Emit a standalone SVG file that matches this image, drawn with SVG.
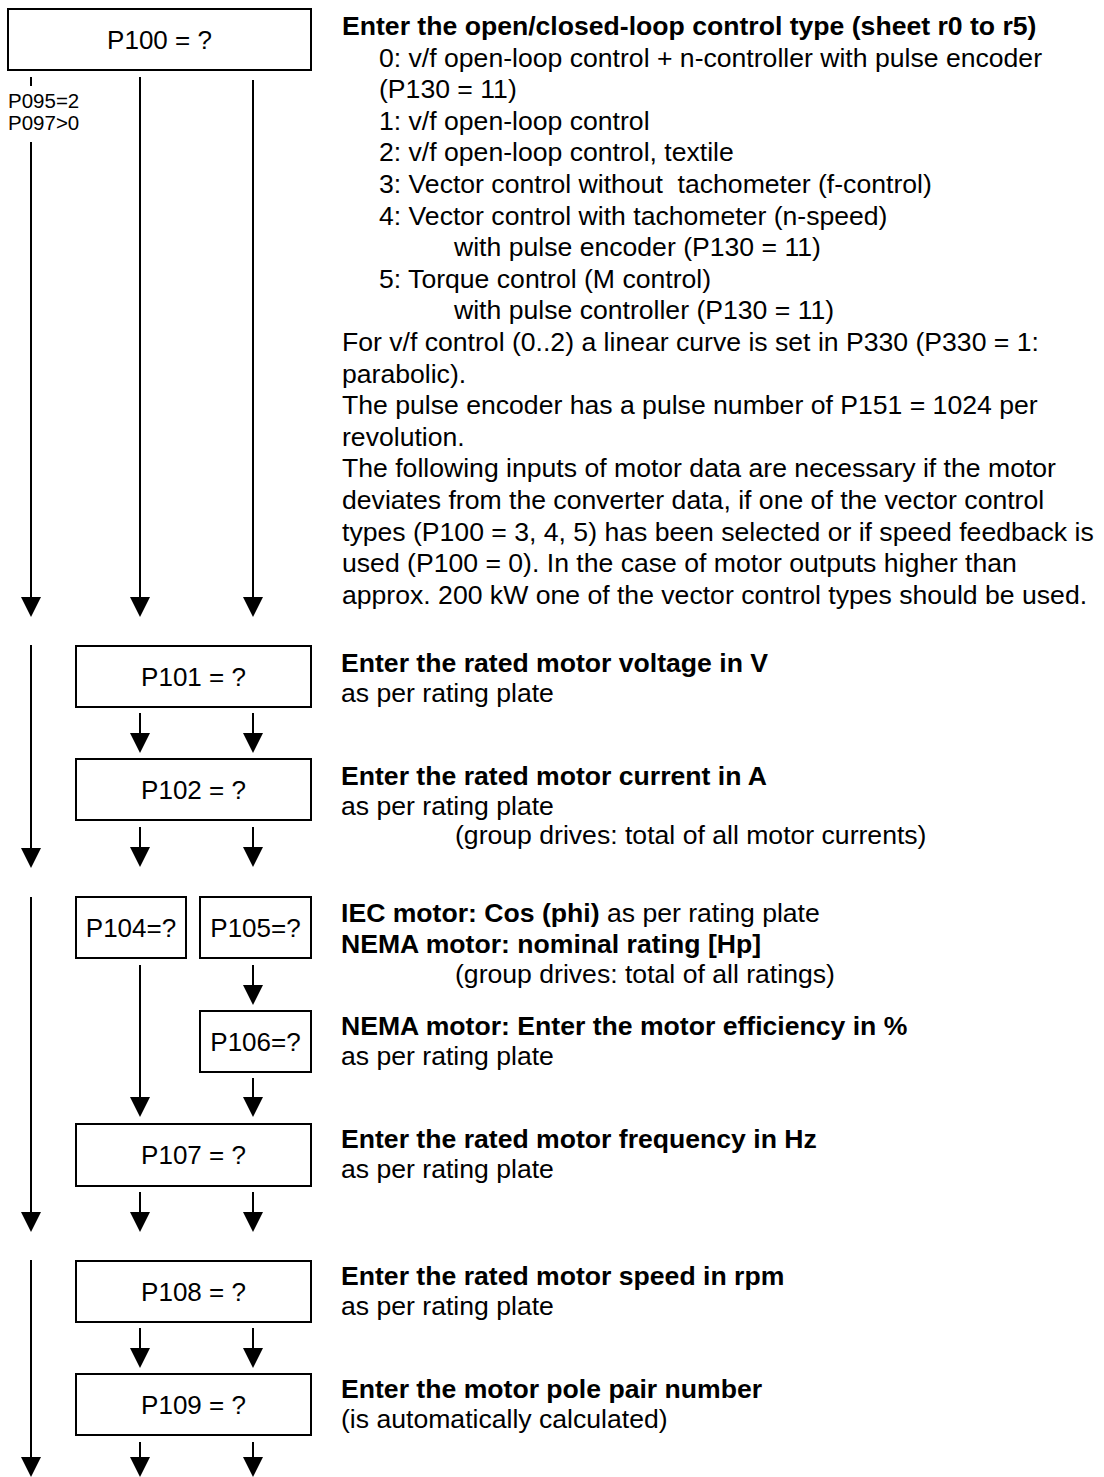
<svg xmlns="http://www.w3.org/2000/svg" width="1104" height="1477" viewBox="0 0 1104 1477">
<style>
.box{fill:#fff;stroke:#000;stroke-width:2}
.bt{font-family:"Liberation Sans",Arial,sans-serif;font-size:26px;fill:#000;text-anchor:middle}
.lbl{font-family:"Liberation Sans",Arial,sans-serif;font-size:20.5px;fill:#000}
.t{font-family:"Liberation Sans",Arial,sans-serif;font-size:26.6px;fill:#000;white-space:pre}
.b{font-weight:bold}
.ln{stroke:#000;stroke-width:2;fill:none}
.ar{stroke:#000;stroke-width:2;fill:none;marker-end:url(#ah)}
</style>
<defs>
<marker id="ah" viewBox="0 0 20 20" refX="0" refY="10" markerWidth="20" markerHeight="20" markerUnits="userSpaceOnUse" orient="auto">
<path d="M0,0 L20,10 L0,20 z" fill="#000"/>
</marker>
</defs>
<rect width="1104" height="1477" fill="#fff"/>

<g id="connectors">
<line class="ln" x1="31" y1="77" x2="31" y2="86"/>
<line class="ar" x1="31" y1="142" x2="31" y2="597"/>
<line class="ar" x1="140" y1="77" x2="140" y2="597"/>
<line class="ar" x1="253" y1="80" x2="253" y2="597"/>

<line class="ar" x1="31" y1="645" x2="31" y2="848"/>
<line class="ar" x1="140" y1="713" x2="140" y2="733"/>
<line class="ar" x1="253" y1="713" x2="253" y2="733"/>
<line class="ar" x1="140" y1="827" x2="140" y2="847"/>
<line class="ar" x1="253" y1="827" x2="253" y2="847"/>

<line class="ar" x1="31" y1="897" x2="31" y2="1212"/>
<line class="ar" x1="140" y1="965" x2="140" y2="1097"/>
<line class="ar" x1="253" y1="965" x2="253" y2="985"/>
<line class="ar" x1="253" y1="1078" x2="253" y2="1097"/>
<line class="ar" x1="140" y1="1192" x2="140" y2="1212"/>
<line class="ar" x1="253" y1="1192" x2="253" y2="1212"/>

<line class="ar" x1="31" y1="1260" x2="31" y2="1457"/>
<line class="ar" x1="140" y1="1328" x2="140" y2="1348"/>
<line class="ar" x1="253" y1="1328" x2="253" y2="1348"/>
<line class="ar" x1="140" y1="1442" x2="140" y2="1457"/>
<line class="ar" x1="253" y1="1442" x2="253" y2="1457"/>
</g>

<g id="n-P100">
<rect class="box" x="8" y="9" width="303" height="61"/>
<text class="bt" x="159.5" y="48.5">P100 = ?</text>
</g>
<g id="cond-label">
<text class="lbl" x="8" y="108">P095=2</text>
<text class="lbl" x="8" y="130">P097&gt;0</text>
</g>

<g id="desc-P100">
<text class="t b" x="342" y="35">Enter the open/closed-loop control type (sheet r0 to r5)</text>
<text class="t" x="379" y="66.6">0: v/f open-loop control + n-controller with pulse encoder</text>
<text class="t" x="379" y="98.2">(P130 = 11)</text>
<text class="t" x="379" y="129.8">1: v/f open-loop control</text>
<text class="t" x="379" y="161.4">2: v/f open-loop control, textile</text>
<text class="t" x="379" y="193">3: Vector control without  tachometer (f-control)</text>
<text class="t" x="379" y="224.6">4: Vector control with tachometer (n-speed)</text>
<text class="t" x="454" y="256.2">with pulse encoder (P130 = 11)</text>
<text class="t" x="379" y="287.8">5: Torque control (M control)</text>
<text class="t" x="454" y="319.4">with pulse controller (P130 = 11)</text>
<text class="t" x="342" y="351">For v/f control (0..2) a linear curve is set in P330 (P330 = 1:</text>
<text class="t" x="342" y="382.6">parabolic).</text>
<text class="t" x="342" y="414.2">The pulse encoder has a pulse number of P151 = 1024 per</text>
<text class="t" x="342" y="445.8">revolution.</text>
<text class="t" x="342" y="477.4">The following inputs of motor data are necessary if the motor</text>
<text class="t" x="342" y="509">deviates from the converter data, if one of the vector control</text>
<text class="t" x="342" y="540.6">types (P100 = 3, 4, 5) has been selected or if speed feedback is</text>
<text class="t" x="342" y="572.2">used (P100 = 0). In the case of motor outputs higher than</text>
<text class="t" x="342" y="603.8">approx. 200 kW one of the vector control types should be used.</text>
</g>

<g id="n-P101">
<rect class="box" x="76" y="646" width="235" height="61"/>
<text class="bt" x="193.5" y="685.5">P101 = ?</text>
</g>
<g id="desc-P101">
<text class="t b" x="341" y="672">Enter the rated motor voltage in V</text>
<text class="t" x="341" y="702">as per rating plate</text>
</g>

<g id="n-P102">
<rect class="box" x="76" y="759" width="235" height="61"/>
<text class="bt" x="193.5" y="798.5">P102 = ?</text>
</g>
<g id="desc-P102">
<text class="t b" x="341" y="785">Enter the rated motor current in A</text>
<text class="t" x="341" y="815">as per rating plate</text>
<text class="t" x="455" y="844">(group drives: total of all motor currents)</text>
</g>

<g id="n-P104">
<rect class="box" x="76" y="897" width="110" height="61"/>
<text class="bt" x="131" y="936.5">P104=?</text>
</g>
<g id="n-P105">
<rect class="box" x="200" y="897" width="111" height="61"/>
<text class="bt" x="255.5" y="936.5">P105=?</text>
</g>
<g id="desc-P104-P105">
<text class="t" x="341" y="922"><tspan class="b">IEC motor: Cos (phi)</tspan> as per rating plate</text>
<text class="t b" x="341" y="953">NEMA motor: nominal rating [Hp]</text>
<text class="t" x="455" y="983">(group drives: total of all ratings)</text>
</g>

<g id="n-P106">
<rect class="box" x="200" y="1011" width="111" height="61"/>
<text class="bt" x="255.5" y="1050.5">P106=?</text>
</g>
<g id="desc-P106">
<text class="t b" x="341" y="1035">NEMA motor: Enter the motor efficiency in %</text>
<text class="t" x="341" y="1065">as per rating plate</text>
</g>

<g id="n-P107">
<rect class="box" x="76" y="1124" width="235" height="62"/>
<text class="bt" x="193.5" y="1164">P107 = ?</text>
</g>
<g id="desc-P107">
<text class="t b" x="341" y="1148">Enter the rated motor frequency in Hz</text>
<text class="t" x="341" y="1178">as per rating plate</text>
</g>

<g id="n-P108">
<rect class="box" x="76" y="1261" width="235" height="61"/>
<text class="bt" x="193.5" y="1300.5">P108 = ?</text>
</g>
<g id="desc-P108">
<text class="t b" x="341" y="1285">Enter the rated motor speed in rpm</text>
<text class="t" x="341" y="1315">as per rating plate</text>
</g>

<g id="n-P109">
<rect class="box" x="76" y="1374" width="235" height="61"/>
<text class="bt" x="193.5" y="1413.5">P109 = ?</text>
</g>
<g id="desc-P109">
<text class="t b" x="341" y="1398">Enter the motor pole pair number</text>
<text class="t" x="341" y="1428">(is automatically calculated)</text>
</g>
</svg>
